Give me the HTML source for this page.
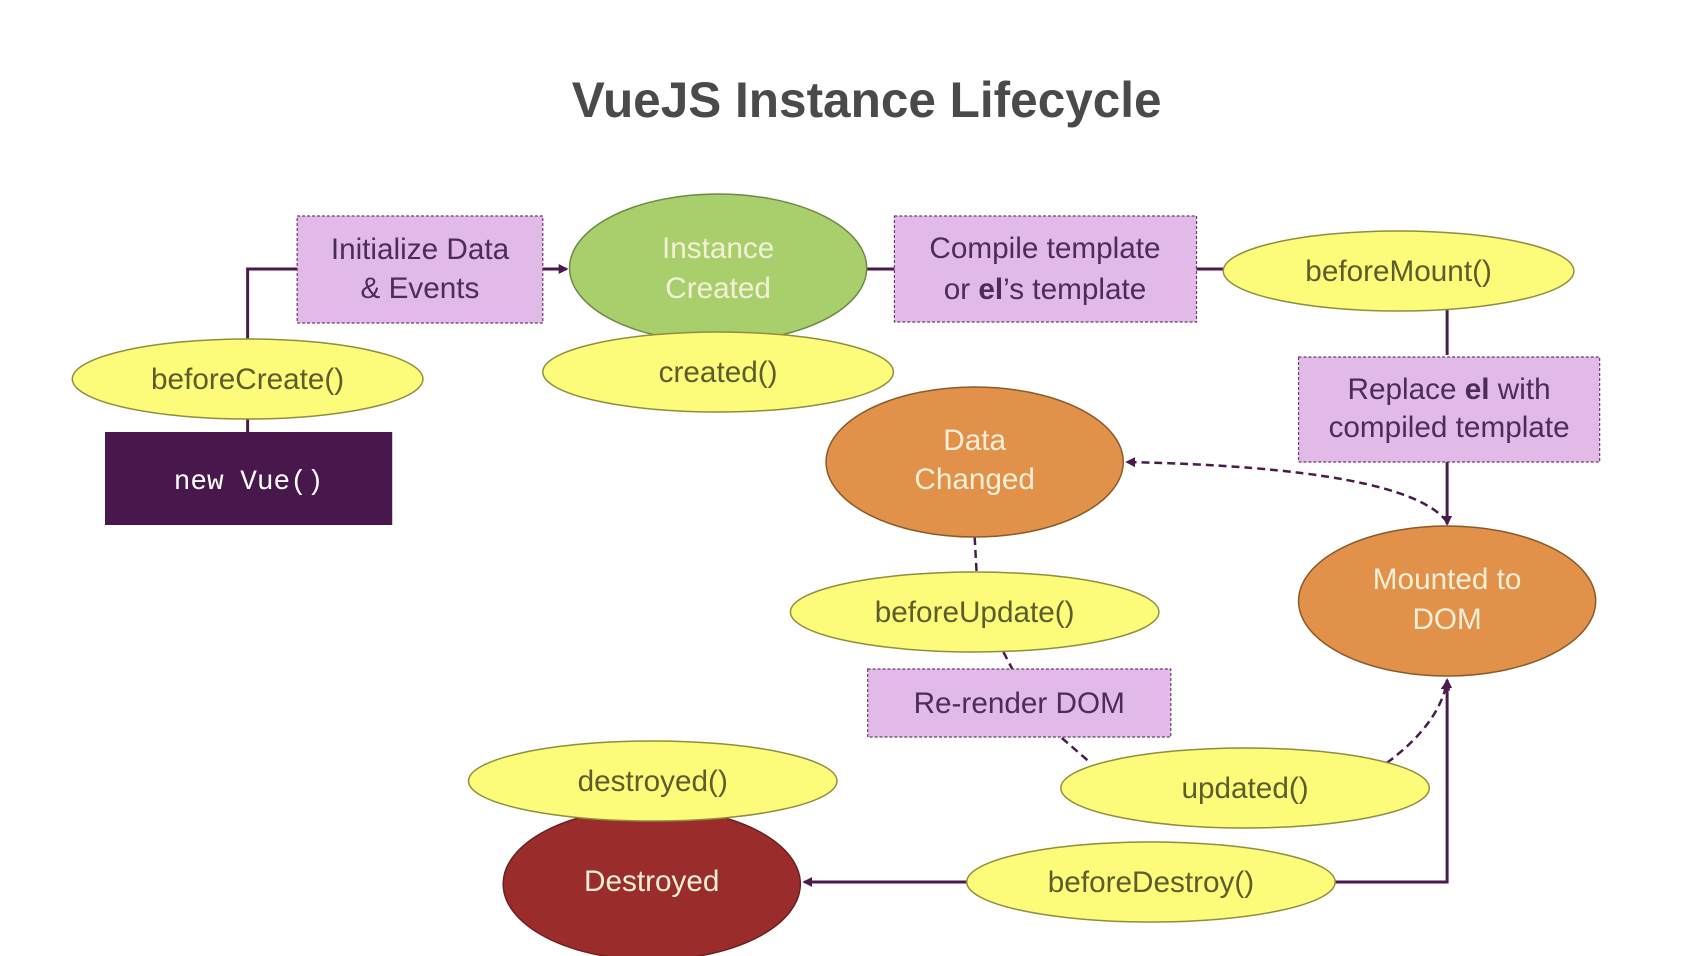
<!DOCTYPE html>
<html><head><meta charset="utf-8"><style>
html,body{margin:0;padding:0;background:#fff;}
svg{display:block;}
text{font-family:"Liberation Sans",sans-serif;}
</style></head><body>
<svg width="1698" height="956" viewBox="0 0 1698 956" xmlns="http://www.w3.org/2000/svg">
<defs>
<marker id="ar" markerWidth="10" markerHeight="10" refX="8" refY="5" orient="auto" markerUnits="userSpaceOnUse">
<path d="M0,0 L10,5 L0,10 Z" fill="#4a1a4c"/></marker>
</defs>
<rect width="1698" height="956" fill="#fff"/>
<g transform="scale(0.9905,1)">
<text x="875" y="117" text-anchor="middle" font-size="50" font-weight="bold" fill="#4a4a4a">VueJS Instance Lifecycle</text>

<g stroke="#4a1a4c" stroke-width="3" fill="none">
<line x1="250" y1="432" x2="250" y2="415"/>
<polyline points="250,342 250,269 300,269"/>
<line x1="548" y1="269" x2="572" y2="269" marker-end="url(#ar)"/>
<line x1="872" y1="269" x2="903" y2="269"/>
<line x1="1208" y1="269" x2="1236" y2="269"/>
<line x1="1461" y1="310" x2="1461" y2="355"/>
<line x1="1461" y1="462" x2="1461" y2="524" marker-end="url(#ar)"/>
<polyline points="1348,882 1461,882 1461,680" marker-end="url(#ar)"/>
<line x1="977" y1="882" x2="812" y2="882" marker-end="url(#ar)"/>
</g>
<g stroke="#4a1a4c" stroke-width="2.5" fill="none" stroke-dasharray="8,5">
<path d="M1461,522 Q1420,468 1138,462" marker-end="url(#ar)"/>
<line x1="984" y1="537" x2="986" y2="573"/>
<line x1="1013" y1="652" x2="1022" y2="669"/>
<line x1="1072" y1="738" x2="1100" y2="762"/>
<path d="M1400,763 Q1452,725 1461,682" marker-end="url(#ar)"/>
</g>

<g fill="#e1bae7" stroke="#6a3a6e" stroke-width="1.2" stroke-dasharray="3,2">
<rect x="300" y="216" width="248" height="107"/>
<rect x="903" y="216" width="305" height="106"/>
<rect x="1311" y="357" width="304" height="105"/>
<rect x="876" y="669" width="306" height="68"/>
</g>
<g font-size="30" fill="#4c2c5a" text-anchor="middle">
<text x="424" y="259">Initialize Data</text>
<text x="424" y="298">&amp; Events</text>
<text x="1055" y="258">Compile template</text>
<text x="1055" y="299">or <tspan font-weight="bold">el</tspan>’s template</text>
<text x="1463" y="399">Replace <tspan font-weight="bold">el</tspan> with</text>
<text x="1463" y="437">compiled template</text>
<text x="1029" y="713">Re-render DOM</text>
</g>

<ellipse cx="725" cy="268" rx="150" ry="74" fill="#a9cf6c" stroke="#6c8a44" stroke-width="1.5"/>
<ellipse cx="984" cy="462" rx="150" ry="75" fill="#e1914a" stroke="#8a5a2a" stroke-width="1.5"/>
<ellipse cx="1461" cy="601" rx="150" ry="75" fill="#e1914a" stroke="#8a5a2a" stroke-width="1.5"/>
<ellipse cx="658" cy="884" rx="150" ry="76" fill="#9b2c2c" stroke="#6a2020" stroke-width="1.5"/>

<g fill="#fdfb7a" stroke="#8e8e3c" stroke-width="1.5">
<ellipse cx="250" cy="379" rx="177" ry="40"/>
<ellipse cx="725" cy="372" rx="177" ry="40"/>
<ellipse cx="1412" cy="271" rx="177" ry="40"/>
<ellipse cx="984" cy="612" rx="186" ry="40"/>
<ellipse cx="1257" cy="788" rx="186" ry="40"/>
<ellipse cx="659" cy="781" rx="186" ry="40"/>
<ellipse cx="1162" cy="882" rx="186" ry="40"/>
</g>
<g font-size="30" fill="#5c5c2c" text-anchor="middle">
<text x="250" y="389">beforeCreate()</text>
<text x="725" y="382">created()</text>
<text x="1412" y="281">beforeMount()</text>
<text x="984" y="622">beforeUpdate()</text>
<text x="1257" y="798">updated()</text>
<text x="659" y="791">destroyed()</text>
<text x="1162" y="892">beforeDestroy()</text>
</g>
<g font-size="30" fill="#f4f0d8" text-anchor="middle">
<text x="725" y="258">Instance</text>
<text x="725" y="298">Created</text>
<text x="984" y="450">Data</text>
<text x="984" y="489">Changed</text>
<text x="1461" y="589">Mounted to</text>
<text x="1461" y="629">DOM</text>
<text x="658" y="891">Destroyed</text>
</g>

<rect x="106" y="432" width="290" height="93" fill="#48174c"/>
<text x="251" y="489" text-anchor="middle" font-size="28" fill="#fff" style="font-family:'Liberation Mono',monospace">new Vue()</text>
</g>
</svg>
</body></html>
